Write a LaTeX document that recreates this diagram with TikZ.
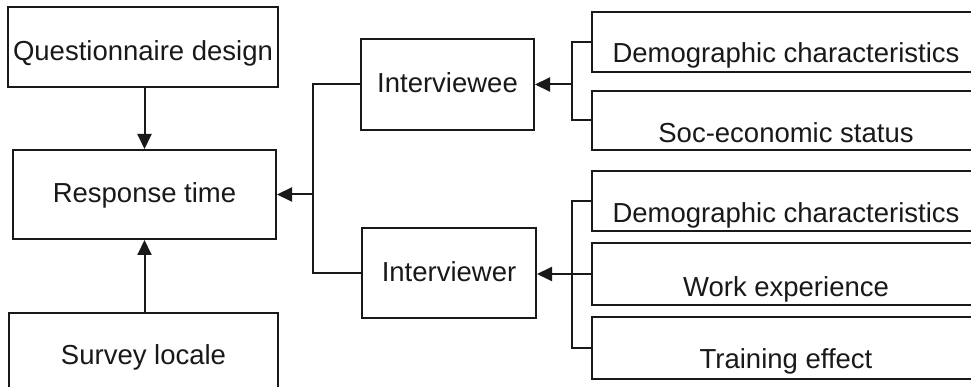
\documentclass[tikz,border=0pt]{standalone}
\usepackage{fontspec}
\setmainfont{Liberation Sans}
\usetikzlibrary{arrows.meta}
\begin{document}
\begin{tikzpicture}[x=1pt,y=-1pt,
  box/.style={draw=black!90,line width=2pt,inner sep=0pt,minimum width=#1},
  lbl/.style={anchor=base,inner sep=0pt,text=black!90,font=\fontsize{27.5}{32}\selectfont},
  con/.style={draw=black!90,line width=2pt},
  arr/.style={draw=black!90,fill=black!90,line width=2pt,-{Triangle[length=15pt,width=14pt]}}]
\path[use as bounding box,clip] (0,0) rectangle (971,387);
\fill[white] (0,0) rectangle (971,387);
% left column
\node[box=270pt,minimum height=80pt] (qd) at (143,47) {};
\node[lbl] (qdt) at (143,61) {Questionnaire design};
\node[box=263pt,minimum height=89pt] (rt) at (144.5,194.5) {};
\node[lbl] (rtt) at (144.5,203) {Response time};
\node[box=269pt,minimum height=100pt] (sl) at (143.5,363) {};
\node[lbl] (slt) at (143.5,364) {Survey locale};
% middle
\node[box=173pt,minimum height=91pt] (iee) at (447.5,84.5) {};
\node[lbl] (ieet) at (447.5,93) {Interviewee};
\node[box=174pt,minimum height=89pt] (ier) at (449,273) {};
\node[lbl] (iert) at (449,281) {Interviewer};
% right
\node[box=388pt,minimum height=60pt] (r1) at (786,42) {};
\node[lbl] (r1t) at (786,63) {Demographic characteristics};
\node[box=388pt,minimum height=59pt] (r2) at (786,120.5) {};
\node[lbl] (r2t) at (786,143) {Soc-economic status};
\node[box=388pt,minimum height=60pt] (r3) at (786,201) {};
\node[lbl] (r3t) at (786,223) {Demographic characteristics};
\node[box=388pt,minimum height=62pt] (r4) at (786,274) {};
\node[lbl] (r4t) at (786,296) {Work experience};
\node[box=388pt,minimum height=62pt] (r5) at (786,348) {};
\node[lbl] (r5t) at (786,368) {Training effect};
% connectors
\coordinate (j) at (313,194.5);
\coordinate (k1) at (572,84.5);
\coordinate (k2) at (572,274);
\draw[arr] (qd.south -| rt.north) -- (rt.north);
\draw[arr] (sl.north -| rt.south) -- (rt.south);
\draw[con] (iee.west) -| (j) |- (ier.west);
\draw[arr] (j) -- (rt.east);
\draw[con] (r1.west) -| (k1) |- (r2.west);
\draw[arr] (k1) -- (iee.east);
\draw[con] (r3.west) -| (k2) |- (r5.west);
\draw[arr] (r4.west) -- (r4.west -| ier.east);
\end{tikzpicture}
\end{document}
